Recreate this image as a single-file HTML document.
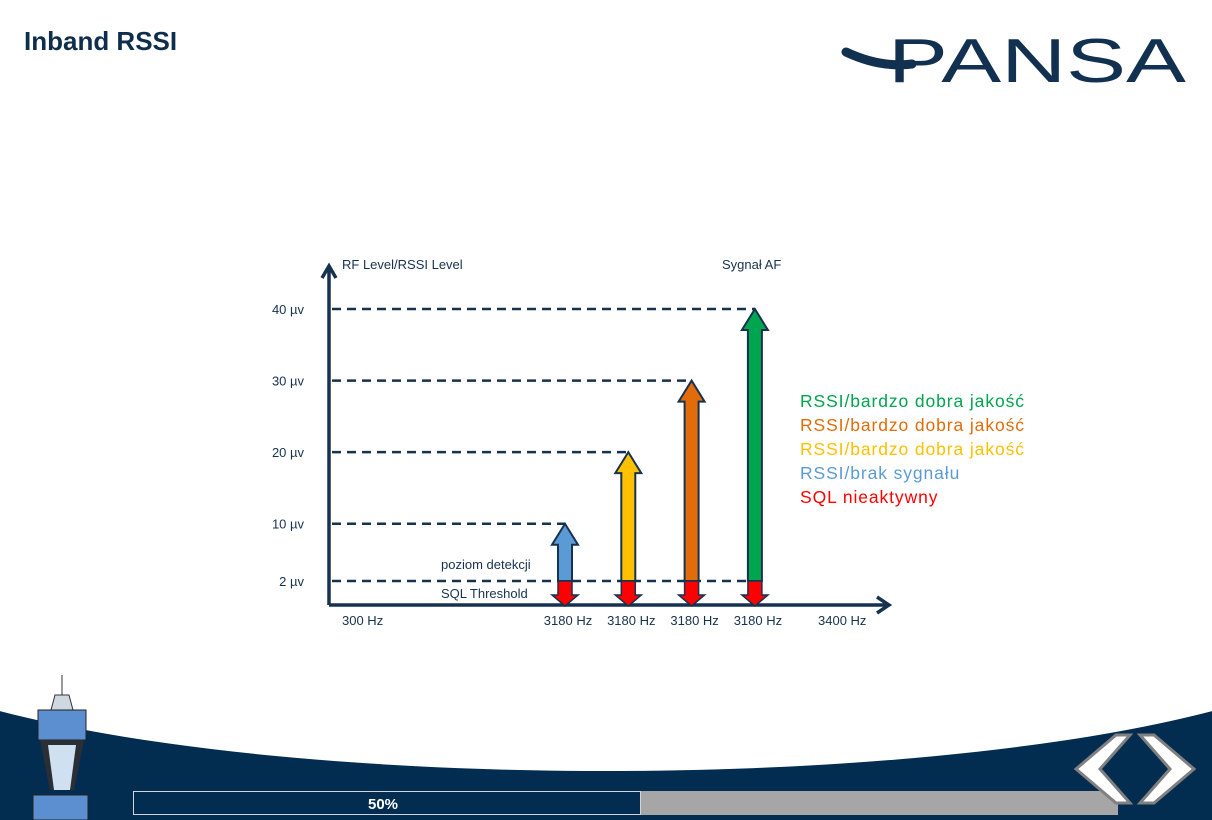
<!DOCTYPE html>
<html><head><meta charset="utf-8"><style>
body{margin:0;width:1212px;height:820px;overflow:hidden;background:#fff;font-family:"Liberation Sans",sans-serif;position:relative}
.t{position:absolute}
</style></head><body>
<div class="t" style="left:24px;top:26px;font-size:26px;font-weight:bold;color:#0f2d4c">Inband RSSI</div>
<svg class="t" style="left:0;top:0" width="1212" height="820">
<g>
<path d="M846 52 Q880 68 912 64" stroke="#12304f" stroke-width="9" fill="none" stroke-linecap="round"/>
<text x="888" y="82" font-size="62" font-family="Liberation Sans" fill="#12304f" textLength="298" lengthAdjust="spacingAndGlyphs">PANSA</text>
</g>
<g>
<rect x="0" y="700" width="1212" height="120" fill="#022d50"/>
<ellipse cx="606" cy="620" rx="760" ry="151" fill="#fff"/>
</g>
<g>
<rect x="133" y="791" width="985" height="24" fill="#a6a6a6"/>
<rect x="133.5" y="791.5" width="507" height="23" fill="#022d50" stroke="#cfd6dd"/>
<text x="383" y="809" font-size="15" font-weight="bold" fill="#fff" text-anchor="middle">50%</text>
</g>
<g>
<line x1="62" y1="675" x2="62" y2="695" stroke="#333"/>
<path d="M55 695h14l4 15h-22z" fill="#cfd8e0" stroke="#333"/>
<rect x="38" y="710" width="48" height="30" fill="#5b8fd0" stroke="#222"/>
<path d="M40 740h44l-10 50h-24z" fill="#2a2f35"/>
<path d="M48 745h28l-6 45h-16z" fill="#cfe0f0"/>
<rect x="33" y="795" width="55" height="25" fill="#5b8fd0" stroke="#222"/>
</g>
<g>
<path d="M1130 735h-14l-40 34 40 34h14l-30-34z" fill="#fff" stroke="#808080" stroke-width="3"/>
<path d="M1140 735h14l40 34-40 34h-14l30-34z" fill="#fff" stroke="#808080" stroke-width="3"/>
</g>
<g id="chart"></g>
</svg>
<div class="t" style="left:800px;top:389px;font-size:17.5px;line-height:24px;letter-spacing:0.9px">
<div style="color:#00a550">RSSI/bardzo dobra jakość</div>
<div style="color:#e36c0a">RSSI/bardzo dobra jakość</div>
<div style="color:#ffc000">RSSI/bardzo dobra jakość</div>
<div style="color:#5b9bd5">RSSI/brak sygnału</div>
<div style="color:#ff0000">SQL nieaktywny</div>
</div>
<script>
const tickValues=[2,10,20,30,40];
const tickLabels=["2 µv","10 µv","20 µv","30 µv","40 µv"];
const barLabels=["3180 Hz","3180 Hz","3180 Hz","3180 Hz"];
const barValues=[10,20,30,40];
const barColors=["#5b9bd5","#ffc000","#e36c0a","#00a550"];
const threshold=2;
const NS="http://www.w3.org/2000/svg";
const g=document.getElementById('chart');
const X0=329,Y0=605;
function y(v){return 581-(v-2)*(272/38);}
function xb(i){return 565+i*63.3;}
function el(t,a,txt){const e=document.createElementNS(NS,t);for(const k in a)e.setAttribute(k,a[k]);if(txt)e.textContent=txt;g.appendChild(e);return e;}
const C="#17324f";
let e;
e=el('path',{d:`M${X0} ${Y0}V268M${X0-7} 278L${X0} 266L${X0+7} 278`,stroke:C,'stroke-width':3.5,fill:'none'});

e=el('path',{d:`M${X0} ${Y0}H887M877 597L889 ${Y0}L877 613`,stroke:C,'stroke-width':3.5,fill:'none'});

e=el('text',{x:342,y:269,'font-size':13,fill:C},'RF Level/RSSI Level');

e=el('text',{x:722,y:269,'font-size':13,fill:C},'Sygnał AF');

tickValues.forEach((v,i)=>{
  e=el('text',{x:304,y:y(v)+5,'font-size':13,fill:C,'text-anchor':'end'},tickLabels[i]);
  
});
e=el('line',{x1:332,x2:xb(3)+8,y1:y(threshold),y2:y(threshold),stroke:C,'stroke-width':2.5,'stroke-dasharray':'9,6'});

barValues.forEach((v,i)=>{
  const cx=xb(i),ty=y(v),by=y(threshold);
  e=el('line',{x1:332,x2:cx,y1:ty,y2:ty,stroke:C,'stroke-width':2.5,'stroke-dasharray':'9,6'});
  
  e=el('path',{d:`M${cx-7} ${by}V${ty+21}H${cx-13}L${cx} ${ty}L${cx+13} ${ty+21}H${cx+7}V${by}Z`,fill:barColors[i],stroke:C,'stroke-width':2});
  
  e=el('path',{d:`M${cx-7} ${by}V${Y0-10}H${cx-13}L${cx} ${Y0+1}L${cx+13} ${Y0-10}H${cx+7}V${by}Z`,fill:'#ff0000',stroke:C,'stroke-width':1.5});
  
  e=el('text',{x:cx+3,y:625,'font-size':13,fill:C,'text-anchor':'middle'},barLabels[i]);
  
});
e=el('text',{x:342,y:625,'font-size':13,fill:C},'300 Hz');

e=el('text',{x:818,y:625,'font-size':13,fill:C},'3400 Hz');

e=el('text',{x:441,y:569,'font-size':13,fill:C},'poziom detekcji');

e=el('text',{x:441,y:598,'font-size':13,fill:C},'SQL Threshold');

</script>
</body></html>
